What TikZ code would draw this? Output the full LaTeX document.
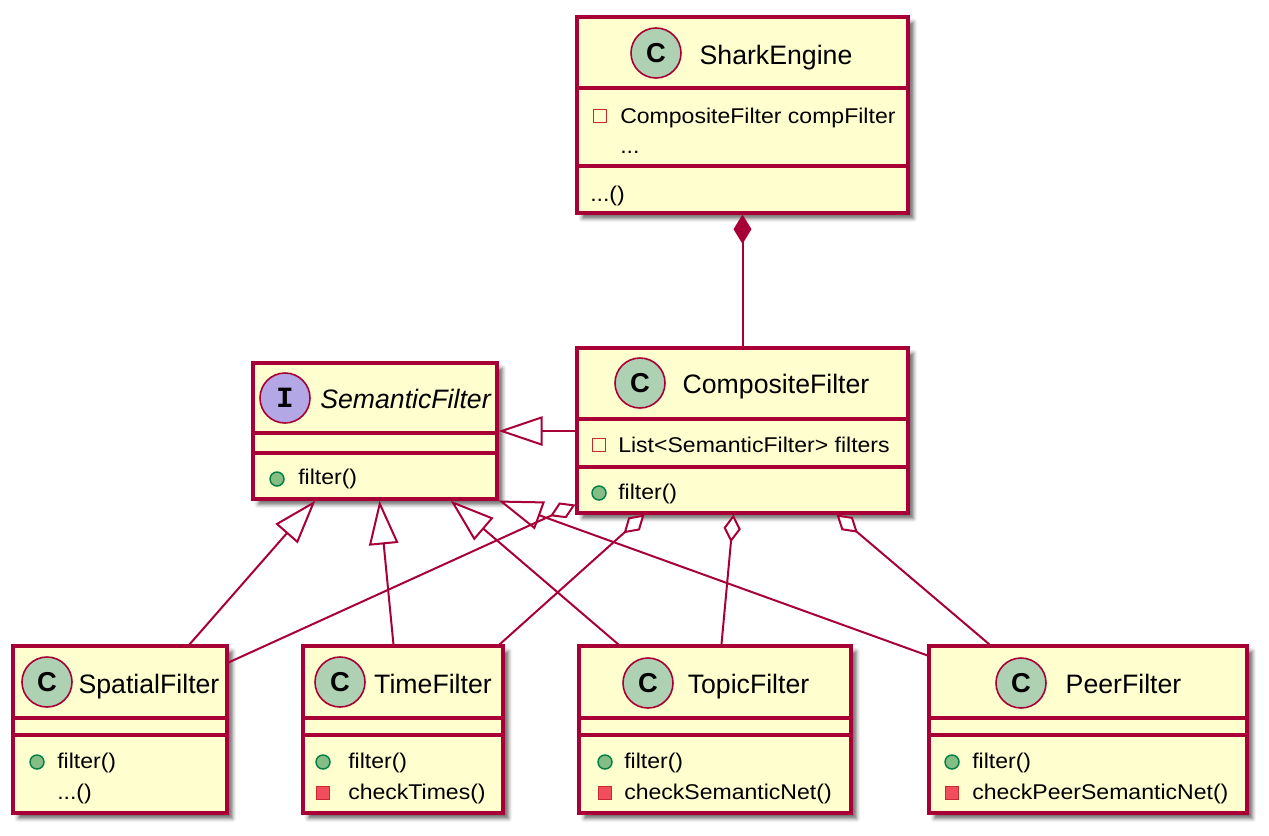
\documentclass[tikz,border=0pt]{standalone}
\usepackage{fontspec}
\setmainfont{Liberation Sans}
\newfontfamily\memberfont[FakeStretch=1.08]{Liberation Sans}
\newfontfamily\stereofont{Liberation Mono}
\usepackage{tikz}
\usetikzlibrary{arrows.meta,calc,shadows.blur}
\definecolor{umlborder}{HTML}{A80036}
\definecolor{umlfill}{HTML}{FEFECE}
\definecolor{classgreen}{HTML}{ADD1B2}
\definecolor{ifacepurple}{HTML}{B4A7E5}
\definecolor{privred}{HTML}{C82930}
\definecolor{privpink}{HTML}{F24D5C}
\definecolor{pubdark}{HTML}{038048}
\definecolor{publight}{HTML}{84BE84}
\tikzstyle{classbox} = [rectangle, draw=umlborder, fill=umlfill, line width=2.3pt,
    blur shadow={shadow xshift=4pt, shadow yshift=-4pt, shadow blur radius=3pt, shadow opacity=60}]
\tikzstyle{sepline} = [draw=umlborder, line width=2.3pt]
\tikzstyle{classmark} = [circle, draw=umlborder, fill=classgreen, line width=1.2pt,
    minimum size=37.5pt, inner sep=0pt, font=\fontsize{20.5}{20.5}\selectfont\bfseries]
\tikzstyle{ifacemark} = [classmark, fill=ifacepurple, font=\stereofont\fontsize{22}{22}\selectfont\bfseries]
\tikzstyle{classname} = [anchor=base, inner sep=0pt, font=\fontsize{20}{24}\selectfont]
\tikzstyle{ifacename} = [classname, font=\fontsize{20}{24}\selectfont\itshape]
\tikzstyle{member} = [anchor=base west, inner sep=0pt, font=\memberfont\fontsize{16}{19}\selectfont]
\tikzstyle{privattr} = [rectangle, draw=privred, line width=1.2pt, minimum size=9.5pt, inner sep=0pt]
\tikzstyle{privop} = [privattr, fill=privpink]
\tikzstyle{pubop} = [circle, draw=pubdark, fill=publight, line width=1.1pt, minimum size=10.5pt, inner sep=0pt]
\tikzstyle{assoc} = [draw=umlborder, line width=1.5pt]

\begin{document}
\begin{tikzpicture}[auto, x=0.75pt, y=-0.75pt]
	\useasboundingbox (0,0) rectangle (1269,835);

	% Place class boxes
	\node [classbox, minimum width=248.25pt, minimum height=147pt] (shark) at (742.5,115) {};
	\node [classbox, minimum width=248.25pt, minimum height=123.75pt] (composite) at (742.5,430.5) {};
	\node [classbox, minimum width=183pt, minimum height=102pt] (semantic) at (375,431) {};
	\node [classbox, minimum width=160.5pt, minimum height=125.25pt] (spatial) at (120,729.5) {};
	\node [classbox, minimum width=150pt, minimum height=125.25pt] (time) at (403,729.5) {};
	\node [classbox, minimum width=204pt, minimum height=125.25pt] (topic) at (715,729.5) {};
	\node [classbox, minimum width=238.5pt, minimum height=125.25pt] (peer) at (1088,729.5) {};

	% Compartment lines
	\draw [sepline] (shark.west |- 0,88) -- (shark.east |- 0,88);
	\draw [sepline] (shark.west |- 0,166) -- (shark.east |- 0,166);
	\draw [sepline] (composite.west |- 0,419) -- (composite.east |- 0,419);
	\draw [sepline] (composite.west |- 0,467) -- (composite.east |- 0,467);
	\draw [sepline] (semantic.west |- 0,433) -- (semantic.east |- 0,433);
	\draw [sepline] (semantic.west |- 0,453) -- (semantic.east |- 0,453);
	\draw [sepline] (spatial.west |- 0,718) -- (spatial.east |- 0,718);
	\draw [sepline] (spatial.west |- 0,735) -- (spatial.east |- 0,735);
	\draw [sepline] (time.west |- 0,718) -- (time.east |- 0,718);
	\draw [sepline] (time.west |- 0,735) -- (time.east |- 0,735);
	\draw [sepline] (topic.west |- 0,718) -- (topic.east |- 0,718);
	\draw [sepline] (topic.west |- 0,735) -- (topic.east |- 0,735);
	\draw [sepline] (peer.west |- 0,718) -- (peer.east |- 0,718);
	\draw [sepline] (peer.west |- 0,735) -- (peer.east |- 0,735);

	% SharkEngine
	\node [classmark] (shark-c) at (656,53) {C};
	\node [classname] (shark-name) at (776,64) {SharkEngine};
	\node [privattr] (shark-m1) at (600,116) {};
	\node [member] (shark-t1) at (620,123) {CompositeFilter compFilter};
	\node [member] (shark-t2) at (620,153) {...};
	\node [member] (shark-t3) at (590,201) {...()};

	% CompositeFilter
	\node [classmark] (comp-c) at (640,383) {C};
	\node [classname] (comp-name) at (776,393) {CompositeFilter};
	\node [privattr] (comp-m1) at (599,445) {};
	\node [member] (comp-t1) at (618,452) {List<SemanticFilter> filters};
	\node [pubop] (comp-m2) at (599,493) {};
	\node [member] (comp-t2) at (618,499) {filter()};

	% SemanticFilter
	\node [ifacemark] (sem-i) at (285,398) {I};
	\node [ifacename] (sem-name) at (405.5,408) {SemanticFilter};
	\node [pubop] (sem-m1) at (277,479) {};
	\node [member] (sem-t1) at (298,484) {filter()};

	% SpatialFilter
	\node [classmark] (spatial-c) at (47,682) {C};
	\node [classname] (spatial-name) at (149,693) {SpatialFilter};
	\node [pubop] (spatial-m1) at (37,762) {};
	\node [member] (spatial-t1) at (57,768) {filter()};
	\node [member] (spatial-t2) at (57,799) {...()};

	% TimeFilter
	\node [classmark] (time-c) at (340,682) {C};
	\node [classname] (time-name) at (433,693) {TimeFilter};
	\node [pubop] (time-m1) at (323,762) {};
	\node [member] (time-t1) at (348,768) {filter()};
	\node [privop] (time-m2) at (323,793) {};
	\node [member] (time-t2) at (348,799) {checkTimes()};

	% TopicFilter
	\node [classmark] (topic-c) at (648,683) {C};
	\node [classname] (topic-name) at (748.5,693) {TopicFilter};
	\node [pubop] (topic-m1) at (605,762) {};
	\node [member] (topic-t1) at (624,768) {filter()};
	\node [privop] (topic-m2) at (605,793) {};
	\node [member] (topic-t2) at (624,799) {checkSemanticNet()};

	% PeerFilter
	\node [classmark] (peer-c) at (1021,683) {C};
	\node [classname] (peer-name) at (1123.5,693) {PeerFilter};
	\node [pubop] (peer-m1) at (952,762) {};
	\node [member] (peer-t1) at (972,768) {filter()};
	\node [privop] (peer-m2) at (952,793) {};
	\node [member] (peer-t2) at (972,799) {checkPeerSemanticNet()};

	% Generalisation
	\draw [assoc, -{Triangle[length=33pt, width=22pt, fill=white]}] ($(spatial.north west)+(178,0)$) -- ($(semantic.south west)+(64,0)$);
	\draw [assoc, -{Triangle[length=33pt, width=22pt, fill=white]}] ($(time.north west)+(92,0)$) -- ($(semantic.south west)+(128,0)$);
	\draw [assoc, -{Triangle[length=33pt, width=22pt, fill=white]}] ($(topic.north west)+(41,0)$) -- ($(semantic.south west)+(199,0)$);
	\draw [assoc, -{Triangle[length=33pt, width=22pt, fill=white]}] ($(peer.north west)+(0,11)$) -- (semantic.south east);
	\draw [assoc, -{Triangle[length=33pt, width=22pt, fill=white]}] (composite.west |- semantic.east) -- (semantic.east);

	% Aggregation
	\draw [assoc, {Diamond[length=21pt, width=13pt, fill=white]}-] ($(composite.south west)+(0,-10)$) -- ($(spatial.north east)+(0,18)$);
	\draw [assoc, {Diamond[length=21pt, width=13pt, fill=white]}-] ($(composite.south west)+(69,0)$) -- ($(time.north east)+(-5,0)$);
	\draw [assoc, {Diamond[length=21pt, width=13pt, fill=white]}-] ($(composite.south west)+(158,0)$) -- ($(topic.north west)+(144,0)$);
	\draw [assoc, {Diamond[length=21pt, width=13pt, fill=white]}-] ($(composite.south west)+(261,0)$) -- ($(peer.north west)+(62,0)$);

	% Composition
	\draw [assoc, {Diamond[length=22pt, width=13.5pt]}-] (shark.south) -- (composite.north);

\end{tikzpicture}
\end{document}
